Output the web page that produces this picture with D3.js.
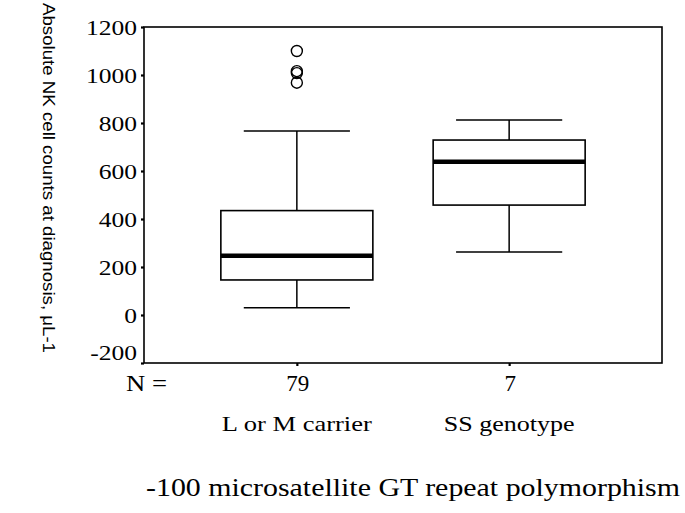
<!DOCTYPE html>
<html>
<head>
<meta charset="utf-8">
<script src="https://cdn.jsdelivr.net/npm/d3@7"></script>
<style>
  body { margin: 0; background: #fff; }
  svg { display: block; }
</style>
</head>
<body>
<div id="chart"></div>
<script>
// group names and counts
const groups = ["L or M carrier", "SS genotype"];
const counts = [79, 7];

// box plot summary per group
const whiskerLow = [30, 262];
const q1 = [146, 458];
const median = [247, 639];
const q3 = [435, 729];
const whiskerHigh = [767, 812];
// outliers only in the first group
const outliers = [[1100, 1016, 1008, 968], []];

const yTicks = [-200, 0, 200, 400, 600, 800, 1000, 1200];

const width = 685;
const height = 513;
const frame = { left: 144, right: 662, top: 27, bottom: 363 };
const serif = "'Liberation Serif', 'Times New Roman', serif";

const svg = d3
  .select("#chart")
  .append("svg")
  .attr("width", width)
  .attr("height", height);

const x = d3
  .scalePoint()
  .domain(groups)
  .range([frame.left, frame.right])
  .padding(0.72);

const y = d3
  .scaleLinear()
  .domain([-200, 1200])
  .range([frame.bottom, frame.top]);

const step = x.step();
const boxW = step * 0.716;
const capW = step * 0.5;

// plot frame
svg
  .append("rect")
  .attr("x", frame.left)
  .attr("y", frame.top)
  .attr("width", frame.right - frame.left)
  .attr("height", frame.bottom - frame.top)
  .attr("fill", "none")
  .attr("stroke", "#000")
  .attr("stroke-width", 1.6);

// y axis (ticks + labels only, the frame draws the line)
const yAxis = svg
  .append("g")
  .attr("transform", `translate(${frame.left},0)`)
  .call(
    d3.axisLeft(y)
      .tickValues(yTicks)
      .tickSize(3)
      .tickPadding(4)
      .tickFormat((d) => String(d)) // plain hyphen, like the original
  );
yAxis.select(".domain").remove();
yAxis.attr("font-family", serif).attr("font-size", 22);
yAxis.selectAll(".tick line").attr("stroke-width", 2.2);
yAxis
  .selectAll(".tick text")
  .attr("dy", (d) => (d === -200 ? "-0.18em" : "0.32em"))
  .attr("lengthAdjust", "spacingAndGlyphs")
  .attr("textLength", function () {
    return this.getComputedTextLength() * 1.16;
  });

// x ticks below the frame
const xAxis = svg
  .append("g")
  .attr("transform", `translate(0,${frame.bottom})`)
  .call(d3.axisBottom(x).tickSize(3).tickFormat(""));
xAxis.select(".domain").remove();
xAxis.selectAll(".tick line").attr("stroke-width", 2.2);

// N = counts row
svg
  .append("text")
  .attr("font-family", serif)
  .attr("x", 126)
  .attr("y", 391)
  .attr("font-size", 23)
  .attr("textLength", 41)
  .attr("lengthAdjust", "spacingAndGlyphs")
  .text("N =");

svg
  .selectAll(".count")
  .data(groups)
  .join("text")
  .attr("class", "count")
  .attr("font-family", serif)
  .attr("x", (d) => x(d) + 1)
  .attr("y", 391)
  .attr("text-anchor", "middle")
  .attr("font-size", 23)
  .text((d, i) => counts[i]);

// group labels
const groupLabelW = [150, 131];
svg
  .selectAll(".glabel")
  .data(groups)
  .join("text")
  .attr("class", "glabel")
  .attr("font-family", serif)
  .attr("x", (d) => x(d))
  .attr("y", 431)
  .attr("text-anchor", "middle")
  .attr("font-size", 21)
  .attr("textLength", (d, i) => groupLabelW[i])
  .attr("lengthAdjust", "spacingAndGlyphs")
  .text((d) => d);

// x axis title
svg
  .append("text")
  .attr("font-family", serif)
  .attr("x", 146)
  .attr("y", 496)
  .attr("font-size", 25)
  .attr("textLength", 534)
  .attr("lengthAdjust", "spacingAndGlyphs")
  .text("-100 microsatellite GT repeat polymorphism");

// y axis title, reads top to bottom
svg
  .append("text")
  .attr("transform", "translate(43,3) rotate(90)")
  .attr("font-family", "'Liberation Sans', Arial, sans-serif")
  .attr("font-size", 17)
  .attr("textLength", 350)
  .attr("lengthAdjust", "spacingAndGlyphs")
  .text("Absolute NK cell counts at diagnosis, μL-1");

// boxes
const box = svg
  .append("g")
  .selectAll("g")
  .data(groups)
  .join("g")
  .attr("stroke", "#000")
  .attr("fill", "none");

// whisker stems
box
  .append("line")
  .attr("x1", (d) => x(d))
  .attr("x2", (d) => x(d))
  .attr("y1", (d, i) => y(whiskerHigh[i]))
  .attr("y2", (d, i) => y(q3[i]))
  .attr("stroke-width", 1.5);
box
  .append("line")
  .attr("x1", (d) => x(d))
  .attr("x2", (d) => x(d))
  .attr("y1", (d, i) => y(q1[i]))
  .attr("y2", (d, i) => y(whiskerLow[i]))
  .attr("stroke-width", 1.5);

// whisker caps
box
  .append("line")
  .attr("x1", (d) => x(d) - capW / 2)
  .attr("x2", (d) => x(d) + capW / 2)
  .attr("y1", (d, i) => y(whiskerHigh[i]))
  .attr("y2", (d, i) => y(whiskerHigh[i]))
  .attr("stroke-width", 1.5);
box
  .append("line")
  .attr("x1", (d) => x(d) - capW / 2)
  .attr("x2", (d) => x(d) + capW / 2)
  .attr("y1", (d, i) => y(whiskerLow[i]))
  .attr("y2", (d, i) => y(whiskerLow[i]))
  .attr("stroke-width", 1.5);

// interquartile box
box
  .append("rect")
  .attr("x", (d) => x(d) - boxW / 2)
  .attr("width", boxW)
  .attr("y", (d, i) => y(q3[i]))
  .attr("height", (d, i) => y(q1[i]) - y(q3[i]))
  .attr("fill", "#fff")
  .attr("stroke-width", 1.6);

// median
box
  .append("line")
  .attr("x1", (d) => x(d) - boxW / 2)
  .attr("x2", (d) => x(d) + boxW / 2)
  .attr("y1", (d, i) => y(median[i]))
  .attr("y2", (d, i) => y(median[i]))
  .attr("stroke-width", 4.5);

// outlier circles
box
  .selectAll("circle")
  .data((d, i) => outliers[i].map((v) => ({ g: d, v })))
  .join("circle")
  .attr("cx", (d) => x(d.g))
  .attr("cy", (d) => y(d.v))
  .attr("r", 5.5)
  .attr("fill", "none")
  .attr("stroke-width", 1.4);
</script>
</body>
</html>
